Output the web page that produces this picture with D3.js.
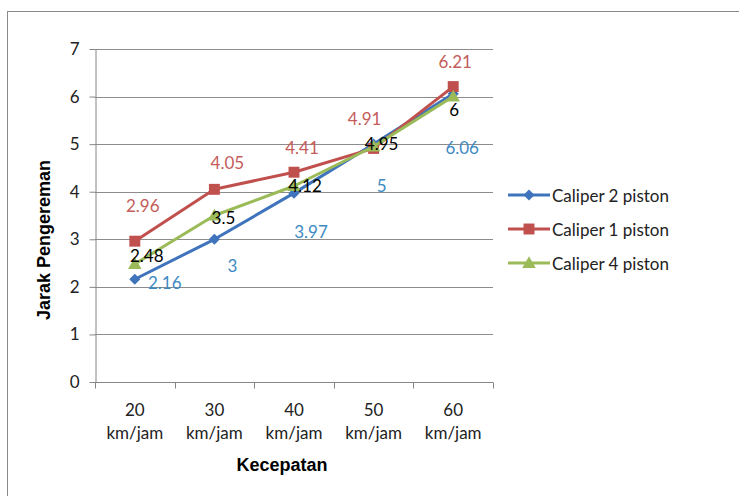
<!DOCTYPE html>
<html>
<head>
<meta charset="utf-8">
<script src="https://cdn.jsdelivr.net/npm/d3@7"></script>
<style>
  html, body { margin: 0; padding: 0; background: #fff; }
  svg { display: block; }
  .lbl { font-family: Lato, "Open Sans", sans-serif; font-size: 17px; }
  .title { font-family: "Liberation Sans Narrow", "Arial Narrow", "Liberation Sans", sans-serif; font-weight: bold; font-size: 18px; fill: #000; }
</style>
</head>
<body>
<svg id="chart" width="739" height="496"></svg>
<script>
// Braking distance by speed for three caliper types
const categories = ["20 km/jam", "30 km/jam", "40 km/jam", "50 km/jam", "60 km/jam"];
const caliper2 = [2.16, 3, 3.97, 5, 6.06];
const caliper1 = [2.96, 4.05, 4.41, 4.91, 6.21];
const caliper4 = [2.48, 3.5, 4.12, 4.95, 6];
const yTicks = [0, 1, 2, 3, 4, 5, 6, 7];
const seriesNames = ["Caliper 2 piston", "Caliper 1 piston", "Caliper 4 piston"];

// Per-label nudges for the value labels (pixels)
const off2 = [[30, 3], [18, 26], [17, 38], [8, 41], [9, 54]];
const off1 = [[8, -36], [13, -27], [8, -25], [-9, -30], [2, -25]];
const off4 = [[12, -9], [9, 2], [11, -1], [8, -3], [1, 13]];

const series = [
  { name: seriesNames[0], values: caliper2, color: "#3f74bd", labelColor: "#3d8ac2", marker: "diamond", off: off2 },
  { name: seriesNames[1], values: caliper1, color: "#c0504d", labelColor: "#c45c5a", marker: "square", off: off1 },
  { name: seriesNames[2], values: caliper4, color: "#9bbb59", labelColor: "#000000", marker: "triangle", off: off4 }
];

const svg = d3.select("#chart");
const plot = { left: 95, right: 493, top: 49, bottom: 382 };

const x = d3.scaleBand().domain(categories).range([plot.left, plot.right]);
const y = d3.scaleLinear().domain([0, 7]).range([plot.bottom, plot.top]);
const cx = c => x(c) + x.bandwidth() / 2;

// Outer chart frame
svg.append("rect")
  .attr("x", 7.5).attr("y", 11.5).attr("width", 900).attr("height", 700)
  .attr("fill", "none").attr("stroke", "#8a8a8a").attr("stroke-width", 1);

// Horizontal gridlines
svg.append("g").selectAll("line")
  .data(yTicks.filter(t => t > 0))
  .join("line")
  .attr("x1", plot.left).attr("x2", plot.right)
  .attr("y1", d => Math.round(y(d)) + 0.5).attr("y2", d => Math.round(y(d)) + 0.5)
  .attr("stroke", "#8c8c8c").attr("stroke-width", 1);

// Y axis
const yAxis = svg.append("g")
  .attr("transform", `translate(${plot.left + 0.5},0)`)
  .call(d3.axisLeft(y).tickValues(yTicks).tickFormat(d3.format("d"))
    .tickSize(6).tickPadding(10).tickSizeOuter(0));
yAxis.select(".domain").attr("stroke", "#868686");
yAxis.selectAll(".tick line").attr("stroke", "#868686");
yAxis.selectAll(".tick text")
  .attr("class", "lbl").attr("fill", "#222")
  .style("font-size", "17px");

// X axis with tick marks on category boundaries
const xAxisG = svg.append("g").attr("transform", `translate(0,${Math.round(plot.bottom) + 0.5})`);
xAxisG.append("line")
  .attr("x1", plot.left).attr("x2", plot.right)
  .attr("stroke", "#868686");
const bounds = categories.map(c => x(c)).concat([x(categories[categories.length - 1]) + x.bandwidth()]);
xAxisG.selectAll("line.tk").data(bounds).join("line")
  .attr("class", "tk")
  .attr("x1", d => Math.round(d) + 0.5).attr("x2", d => Math.round(d) + 0.5)
  .attr("y1", 0).attr("y2", 6)
  .attr("stroke", "#868686");
const xl = xAxisG.selectAll("text").data(categories).join("text")
  .attr("class", "lbl").attr("fill", "#222")
  .attr("text-anchor", "middle")
  .attr("x", d => cx(d));
xl.append("tspan").attr("x", d => cx(d)).attr("y", 33).text(d => d.split(" ")[0]);
xl.append("tspan").attr("x", d => cx(d)).attr("y", 56).text(d => d.split(" ")[1]);

// Axis titles
svg.append("text").attr("class", "title")
  .attr("text-anchor", "middle")
  .attr("x", 282).attr("y", 471)
  .text("Kecepatan");
svg.append("text").attr("class", "title")
  .attr("text-anchor", "middle")
  .attr("transform", "translate(50,240) rotate(-90)")
  .text("Jarak Pengereman");

// Marker shapes: the diamond is a square turned 45 degrees
const symbolFor = m => m === "diamond" ? d3.symbol(d3.symbolSquare, 62)
  : m === "square" ? d3.symbol(d3.symbolSquare, 120)
  : d3.symbol(d3.symbolTriangle, 80);
const markerTransform = (m, px, py) => m === "diamond"
  ? `translate(${px},${py}) rotate(45)`
  : `translate(${px},${py + (m === "triangle" ? 1 : 0)})`;

const line = d3.line().x((d, i) => cx(categories[i])).y(d => y(d));

// Draw series in stacking order: blue under red under green
series.forEach(s => {
  const g = svg.append("g");
  g.append("path").datum(s.values)
    .attr("d", line)
    .attr("fill", "none").attr("stroke", s.color).attr("stroke-width", 3)
    .attr("stroke-linejoin", "round");
  g.selectAll("path.m").data(s.values).join("path")
    .attr("class", "m")
    .attr("d", symbolFor(s.marker))
    .attr("transform", (d, i) => markerTransform(s.marker, cx(categories[i]), y(d)))
    .attr("fill", s.color);
});

// Value labels
series.forEach(s => {
  svg.append("g").selectAll("text").data(s.values).join("text")
    .attr("class", "lbl")
    .attr("fill", s.labelColor)
    .attr("text-anchor", "middle")
    .attr("dominant-baseline", "central")
    .attr("x", (d, i) => cx(categories[i]) + s.off[i][0])
    .attr("y", (d, i) => y(d) + s.off[i][1])
    .text(d => d);
});

// Legend
const legend = svg.append("g");
series.forEach((s, i) => {
  const ly = 195 + i * 34;
  legend.append("line")
    .attr("x1", 508).attr("x2", 550).attr("y1", ly).attr("y2", ly)
    .attr("stroke", s.color).attr("stroke-width", 3);
  legend.append("path")
    .attr("d", symbolFor(s.marker))
    .attr("transform", markerTransform(s.marker, 529, ly))
    .attr("fill", s.color);
  legend.append("text")
    .attr("class", "lbl").attr("fill", "#222")
    .attr("x", 552).attr("y", ly)
    .attr("dominant-baseline", "central")
    .text(s.name);
});
</script>
</body>
</html>
